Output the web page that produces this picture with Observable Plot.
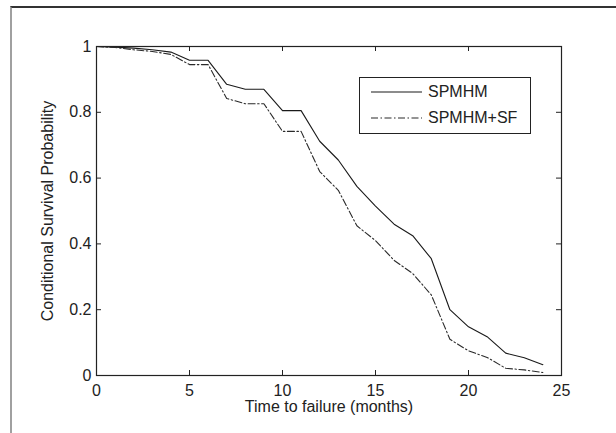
<!DOCTYPE html>
<html><head><meta charset="utf-8">
<script src="https://cdn.jsdelivr.net/npm/d3@7"></script>
<script src="https://cdn.jsdelivr.net/npm/@observablehq/plot@0.6"></script>
<style>
body{margin:0;background:#fff;}
#wrap{position:relative;width:616px;height:433px;overflow:hidden;background:#fff;}
#chart{position:absolute;left:0;top:0;}
#frame{position:absolute;left:10px;top:6px;right:-10px;bottom:-10px;border-top:2px solid #333;border-left:2px solid #a0a0a0;pointer-events:none;}
#legend{position:absolute;left:359px;top:77px;width:170px;height:55px;border:1px solid #222;background:#fff;font:16px "Liberation Sans",Arial,sans-serif;color:#222;}
#legend .row{position:absolute;left:0;height:20px;display:flex;align-items:center;}
#legend svg{margin-left:11px;margin-right:6px;}
</style></head>
<body><div id="wrap"><div id="chart"></div><div id="frame"></div><div id="legend"></div></div>
<script>
const months = [0,1,2,3,4,5,6,7,8,9,10,11,12,13,14,15,16,17,18,19,20,21,22,23,24];
const spmhm   = [1.0,0.998,0.995,0.99,0.983,0.958,0.958,0.885,0.87,0.87,0.805,0.805,0.712,0.655,0.575,0.515,0.46,0.425,0.355,0.2,0.148,0.118,0.068,0.054,0.033];
const spmhmSF = [1.0,0.997,0.99,0.985,0.976,0.945,0.945,0.842,0.826,0.826,0.742,0.742,0.62,0.563,0.455,0.41,0.35,0.31,0.245,0.11,0.075,0.055,0.022,0.017,0.009];
const seriesNames = ["SPMHM","SPMHM+SF"];
const xTicks = [0,5,10,15,20,25];
const yTicks = [0,0.2,0.4,0.6,0.8,1];
const xLabel = "Time to failure (months)";
const yLabel = "Conditional Survival Probability";

const styles = {
  "SPMHM": {stroke:"#1a1a1a", dash:null},
  "SPMHM+SF": {stroke:"#2a2a2a", dash:"7,2.5,1.5,2.5"}
};
const rows = months.flatMap((m,i)=>[
  {m, v: spmhm[i], s: seriesNames[0]},
  {m, v: spmhmSF[i], s: seriesNames[1]}
]);

const W=616, H=433, mL=96, mR=55, mT=46, mB=58;
const fw = W-mL-mR, fh = H-mT-mB, tl = 5;
const font = '"Liberation Sans", Arial, sans-serif';

const chart = Plot.plot({
  width: W, height: H,
  marginLeft: mL, marginRight: mR, marginTop: mT, marginBottom: mB,
  style: {fontFamily: font, fontSize: "16px", color: "#222", background: "transparent", overflow: "visible"},
  x: {domain: [0,25], label: null},
  y: {domain: [0,1], label: null},
  marks: [
    ...seriesNames.map(s => Plot.line(rows.filter(d=>d.s===s), {x:"m", y:"v", stroke: styles[s].stroke, strokeWidth: 1.1, strokeDasharray: styles[s].dash})),
    Plot.frame({stroke:"#222", strokeWidth:1.2}),
    Plot.tickX(xTicks, {x:d=>d, insetTop: fh-tl, stroke:"#222"}),
    Plot.tickX(xTicks, {x:d=>d, insetBottom: fh-tl, stroke:"#222"}),
    Plot.tickY(yTicks, {y:d=>d, insetRight: fw-tl, stroke:"#222"}),
    Plot.tickY(yTicks, {y:d=>d, insetLeft: fw-tl, stroke:"#222"}),
    Plot.axisX(xTicks, {tickSize:0, tickPadding:9, label:null, fill:"#222"}),
    Plot.axisY(yTicks, {tickSize:0, tickPadding:5, label:null, tickFormat:d=>String(d), fill:"#222"}),
    Plot.text([xLabel], {text:d=>d, frameAnchor:"bottom", dy:36, fill:"#222"}),
    Plot.text([yLabel], {text:d=>d, frameAnchor:"left", textAnchor:"middle", dx:-49, rotate:-90, fill:"#222"})
  ]
});
document.getElementById("chart").appendChild(chart);

const leg = document.getElementById("legend");
seriesNames.forEach((s,i)=>{
  const row = document.createElement("div");
  row.className="row";
  row.style.top = (4 + i*25.5) + "px";
  row.innerHTML = `<svg width="51" height="4"><line x1="0" x2="51" y1="2" y2="2" stroke="${styles[s].stroke}" stroke-width="1.1" ${styles[s].dash?`stroke-dasharray="${styles[s].dash}"`:""}/></svg><span>${s}</span>`;
  leg.appendChild(row);
});
</script>
</body></html>
